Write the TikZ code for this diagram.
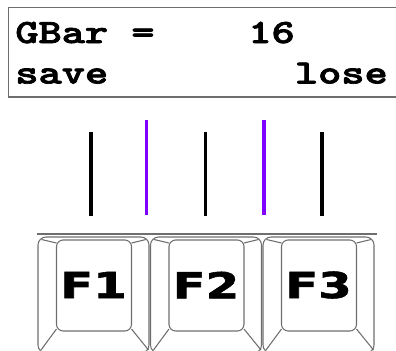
\documentclass[tikz,border=0pt]{standalone}
\usepackage{fontspec}
\newfontfamily\capfont{DejaVu Sans Bold}[FakeBold=1.5]
\newfontfamily\lcdfont{lmmonolt10-bold.otf}[FakeBold=2]
\definecolor{lcdviolet}{HTML}{8000FF}
\definecolor{capgray}{HTML}{6E6E6E}
\tikzset{
  lcdtext/.style={anchor=base west,inner sep=0pt,xscale=1.3,font=\lcdfont\fontsize{25.5}{30}\selectfont},
  keyline/.style={draw=capgray,line width=0.8pt},
  keylabel/.style={inner sep=0pt,xscale=1.35,font=\capfont\fontsize{26.8}{30}\selectfont},
  pin/.style={line width=2.6pt}
}
\begin{document}
\begin{tikzpicture}[x=0.75pt,y=-0.75pt]
    \useasboundingbox (0,0) rectangle (396,350);
    \clip (0,0) rectangle (396,350);
    % display
    \draw[capgray,line width=1pt] (8.7,7.5) rectangle (402,97);
    \node[lcdtext] (gbar) at (15,43) {GBar =};
    \node[lcdtext] (value) at (248,43) {16};
    \node[lcdtext] (save) at (15,83.5) {save};
    \node[lcdtext] (lose) at (294.6,83.5) {lose};
    %
    \draw[pin,black] (91,132) -- (91,216);
    \draw[pin,lcdviolet] (146.7,120) -- (146.7,215);
    \draw[pin,black] (205.7,132) -- (205.7,216);
    \draw[pin,lcdviolet] (264,120) -- (264,215);
    \draw[pin,black] (322,132) -- (322,216);
    % keys
    \draw[capgray,line width=0.8pt] (37,234) -- (377,234);
    \foreach \k/\x in {F1/38,F2/150.5,F3/263} {
      \draw[keyline,rounded corners=6] (\x,237) rectangle ++(111,116);
      \draw[keyline,rounded corners=5] (\x+18.5,240) rectangle (\x+93.5,331);
      \draw[keyline] (\x+18.5,243) -- (\x+3.5,239.5);
      \draw[keyline] (\x+93.5,243) -- (\x+108,239.5);
      \draw[keyline] (\x+18.5,329) -- (\x+3,350);
      \draw[keyline] (\x+93.5,329) -- (\x+110.5,350);
      \node[keylabel] (\k) at (\x+55.5,285) {\k};
    }
\end{tikzpicture}
\end{document}
